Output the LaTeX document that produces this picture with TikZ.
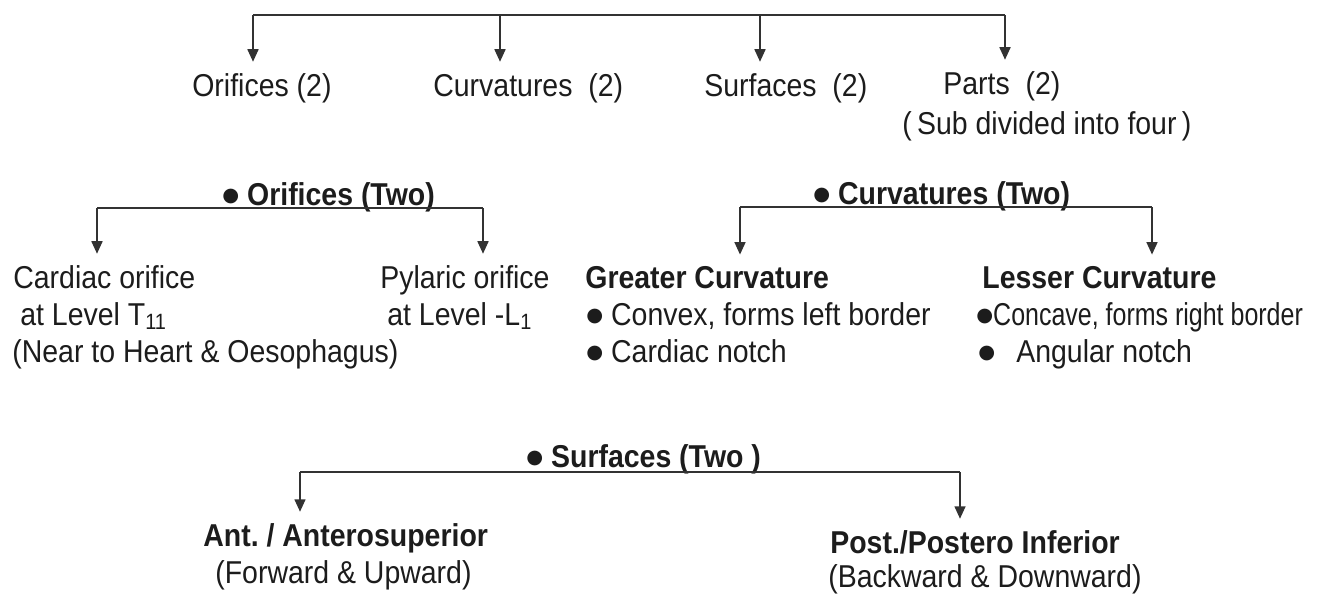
\documentclass[tikz,border=0pt]{standalone}
\usepackage{fontspec}
\usepackage{graphicx}
\setmainfont{Liberation Sans}[FakeStretch=0.9]
\newfontfamily\apretada{Liberation Sans}[FakeStretch=0.79]
\newfontfamily\simbolo{DejaVu Sans}
\newcommand\punto{\raisebox{2.2pt}{\simbolo\fontsize{11}{11}\selectfont ●}}
\usepackage{tikz}
\usetikzlibrary{positioning,arrows.meta}
\definecolor{tinta}{RGB}{28,28,28}
\definecolor{trazo}{RGB}{50,50,50}
\frenchspacing

\begin{document}
\begin{tikzpicture}[x=0.02cm, y=-0.02cm,
    font=\fontsize{18}{20}\selectfont, text=tinta,
    >={Triangle[length=2.5mm, width=2.2mm]},
    renglon/.style={anchor=base west, inner sep=0pt},
    titular/.style={renglon, font=\fontsize{18}{20}\selectfont\bfseries},
    rama/.style={trazo, line width=0.9pt},
    flecha/.style={->, trazo, line width=0.9pt, shorten >=2.2mm}]
  \useasboundingbox (0,0) rectangle (1324,593);
  \node[renglon] (orif) at (192,96) {Orifices (2)};
  \node[renglon] (curv) at (433,96) {Curvatures\ \ (2)};
  \node[renglon] (surf) at (704,96) {Surfaces\ \ (2)};
  \node[renglon] (partes) at (943,94) {Parts\ \ (2)};
  \node[renglon] (partesSub) at (902,134) {(\,Sub divided into four\,)};
  \coordinate (b1) at (253,15);
  \coordinate (b2) at (500,15);
  \coordinate (b3) at (760,15);
  \coordinate (b4) at (1005,15);
  \draw[rama] (b1) -- (b4);
  \foreach \c/\n in {b1/orif, b2/curv, b3/surf, b4/partes}
    \draw[flecha] (\c) -- (\c |- \n.north);
  \node[titular] (orifT) at (222,205) {\punto\ Orifices (Two)};
  \coordinate (oI) at (97,208);
  \coordinate (oD) at (483,208);
  \node[renglon] (cardiaco) at (13,288) {Cardiac orifice};
  \node[renglon] (cardiacoNivel) at (20,325) {at Level T\textsubscript{11}};
  \node[renglon] (cardiacoNota) at (12,362) {(Near to Heart \& Oesophagus)};
  \node[renglon] (pilorico) at (380,288) {Pylaric orifice};
  \node[renglon] (piloricoNivel) at (387,325) {at Level -L\textsubscript{1}};
  \draw[rama] (oI) -- (oD);
  \foreach \c/\n in {oI/cardiaco, oD/pilorico}
    \draw[flecha] (\c) -- (\c |- \n.north);
  \node[titular] (curvT) at (813,204) {\punto\ Curvatures (Two)};
  \coordinate (cI) at (740,207);
  \coordinate (cD) at (1152,207);
  \node[titular] (mayor) at (585,288) {Greater Curvature};
  \node[renglon] (mayorA) at (586,325) {\punto\ Convex, forms left border};
  \node[renglon] (mayorB) at (586,362) {\punto\ Cardiac notch};
  \node[titular] (menor) at (982,288) {Lesser Curvature};
  \node[renglon] (menorA) at (976,325) {\punto{\apretada Concave, forms right border}};
  \node[renglon] (menorB) at (978,362) {\punto\ \ \,Angular notch};
  \draw[rama] (cI) -- (cD);
  \foreach \c/\n in {cI/mayor, cD/menor}
    \draw[flecha] (\c) -- (\c |- \n.north);
  \node[titular] (surfT) at (526,467) {\punto\ Surfaces (Two\ )};
  \coordinate (sI) at (300,472);
  \coordinate (sD) at (960,472);
  \node[titular] (ant) at (203,546) {Ant. / Anterosuperior};
  \node[renglon] (antNota) at (215,583) {(Forward \& Upward)};
  \node[titular] (post) at (830,553) {Post./Postero Inferior};
  \node[renglon] (postNota) at (828,587) {(Backward \& Downward)};
  \draw[rama] (sI) -- (sD);
  \foreach \c/\n in {sI/ant, sD/post}
    \draw[flecha] (\c) -- (\c |- \n.north);
\end{tikzpicture}
\end{document}
